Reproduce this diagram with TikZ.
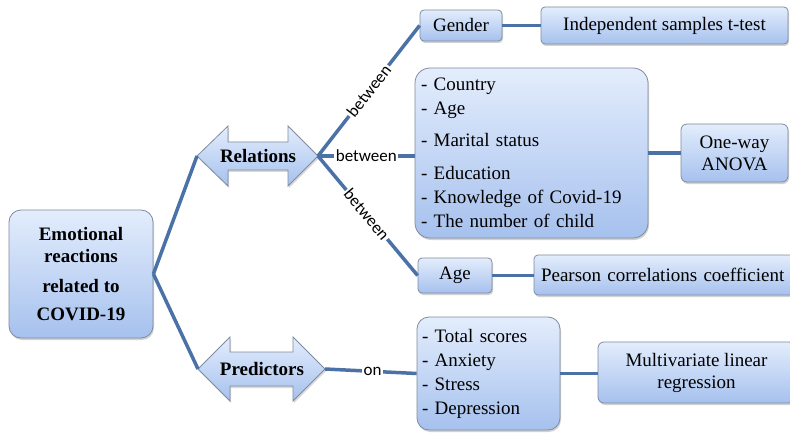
\documentclass[tikz,border=0pt]{standalone}
\usepackage{fontspec}
\setmainfont{Liberation Serif}
\newfontfamily\lblfont{Carlito}
\usetikzlibrary{shadows}
\definecolor{linec}{HTML}{4A72A6}
\definecolor{edgec}{HTML}{7F8CA0}
\definecolor{topc}{HTML}{E3EDFC}
\definecolor{botc}{HTML}{A6C1EE}
\tikzset{
  x=1pt, y=-1pt,
  box/.style={draw=edgec, line width=0.8pt, top color=topc, bottom color=botc,
    rounded corners=#1, inner sep=0pt, font=\fontsize{19}{24}\selectfont,
    drop shadow={opacity=0.35, shadow xshift=1pt, shadow yshift=-2pt}},
  box/.default=6pt,
  arrowbox/.style={draw=edgec, line width=0.8pt, top color=topc, bottom color=botc,
    drop shadow={opacity=0.3, shadow xshift=1pt, shadow yshift=-2pt}},
  conn/.style={draw=linec, line width=3.5pt},
  lbl/.style={fill=white, inner sep=1.5pt, font=\lblfont\fontsize{17}{20}\selectfont, text=black},
}
\begin{document}
\begin{tikzpicture}
\clip (0,0) rectangle (790,433);
\fill[white] (0,0) rectangle (790,433);

% main box
\node[box=12pt, minimum width=144pt, minimum height=128pt, align=center,
  font=\fontsize{19}{22}\selectfont\bfseries] (main) at (81,274)
  {Emotional\\reactions\\[8pt]related to\\[6pt]COVID-19};

% Relations double arrow
\path[arrowbox] (197,156) -- (228,126) -- (228,142) -- (288,142) -- (288,126) -- (318,156)
  -- (288,186) -- (288,170) -- (228,170) -- (228,186) -- cycle;
\node[font=\fontsize{19}{22}\selectfont\bfseries] (rel) at (258,156) {Relations};
\coordinate (relL) at (197,156);
\coordinate (relR) at (318,156);

% Predictors double arrow
\path[arrowbox] (198,369) -- (230,337) -- (230,352) -- (293,352) -- (293,337) -- (325,369)
  -- (293,401) -- (293,386) -- (230,386) -- (230,401) -- cycle;
\node[font=\fontsize{19}{22}\selectfont\bfseries] (pred) at (262,369) {Predictors};
\coordinate (predL) at (198,369);
\coordinate (predR) at (325,369);

% right boxes
\node[box=4pt, minimum width=82pt, minimum height=31pt] (gender) at (461,25.5) {Gender};
\node[box=4pt, minimum width=247pt, minimum height=37pt] (ttest) at (664.5,25.5) {Independent samples t-test};
\node[box=15pt, minimum width=233pt, minimum height=170pt, text width=221pt, align=left] (list1) at (531.5,153)
  {- Country\\- Age\\[8pt]- Marital status\\[9pt]- Education\\- Knowledge of Covid-19\\- The number of child};
\node[box=6pt, minimum width=107pt, minimum height=58pt, align=center, font=\fontsize{19}{22}\selectfont] (anova) at (734.5,153) {One-way\\ANOVA};
\node[box=4pt, minimum width=74pt, minimum height=35pt] (age) at (455,275.5) {Age};
\node[box=4pt, minimum width=266pt, minimum height=40pt, text width=252pt, align=left] (pearson) at (667,275) {Pearson correlations coefficient};
\node[box=12pt, minimum width=143pt, minimum height=113pt, text width=133pt, align=left] (list2) at (488.5,373.5)
  {- Total scores\\- Anxiety\\- Stress\\- Depression};
\node[box=6pt, minimum width=197pt, minimum height=61pt, align=center, font=\fontsize{19}{22}\selectfont] (multi) at (696.5,372.5) {Multivariate linear\\regression};

% connectors
\draw[conn] (main.east) -- (relL);
\draw[conn] (main.east) -- (predL);
\draw[conn] (relR) -- node[lbl, sloped, pos=0.5] {between} (gender.west);
\draw[conn] (relR) -- node[lbl, pos=0.5] {between} (relR -| list1.west);
\draw[conn] (relR) -- node[lbl, sloped, pos=0.49] {between} (age.west);
\draw[conn] (predR) -- node[lbl, pos=0.52] {on} (list2.west);
\draw[conn] (gender.east) -- (ttest.west);
\draw[conn] (list1.east) -- (anova.west);
\draw[conn] (age.east) -- (age.east -| pearson.west);
\draw[conn] (list2.east) -- (list2.east -| multi.west);
\end{tikzpicture}
\end{document}
